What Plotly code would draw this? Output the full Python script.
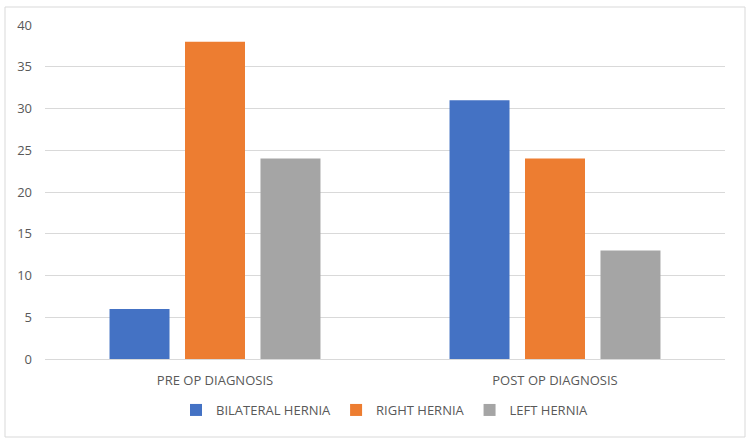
import plotly.graph_objects as go

categories = ["PRE OP DIAGNOSIS", "POST OP DIAGNOSIS"]
series_names = ["BILATERAL HERNIA", "RIGHT HERNIA", "LEFT HERNIA"]
bilateral = [6, 31]
right = [38, 24]
left = [24, 13]
colors = ["#4472C4", "#ED7D31", "#A5A5A5"]
y_ticks = [0, 5, 10, 15, 20, 25, 30, 35, 40]

fig = go.Figure()
for name, vals, c in zip(series_names, [bilateral, right, left], colors):
    fig.add_trace(go.Bar(x=categories, y=vals, name=name, marker=dict(color=c, line=dict(width=0))))

W, H = 750, 445
ml, mr, mt, mb = 45, 25, 25, 86
pw, ph = W - ml - mr, H - mt - mb

def px(x):
    return (x - ml) / pw

def py(y):
    return (H - mb - y) / ph

fig.update_layout(
    width=W, height=H,
    margin=dict(l=ml, r=mr, t=mt, b=mb),
    paper_bgcolor="white", plot_bgcolor="white",
    barmode="group", bargap=0.334, bargroupgap=0.205,
    font=dict(family="Open Sans, Lato, sans-serif", size=13, color="#595959"),
    showlegend=True,
    legend=dict(orientation="h", x=0.5, xanchor="center", y=py(410), yanchor="middle",
                font=dict(size=13, color="#595959"), itemwidth=30, traceorder="normal"),
    xaxis=dict(showgrid=False, showline=False, ticks="", ticklabelstandoff=12,
               tickfont=dict(size=13, color="#595959")),
    yaxis=dict(range=[0, 40], tickvals=y_ticks, showgrid=True, gridcolor="#D9D9D9", gridwidth=1,
               zeroline=True, zerolinecolor="#D9D9D9", zerolinewidth=1, showline=False,
               ticks="", ticklabelstandoff=12, tickfont=dict(size=13, color="#595959")),
    shapes=[dict(type="rect", xref="paper", yref="paper",
                 x0=px(5), x1=px(745), y0=py(437), y1=py(7),
                 line=dict(color="#D9D9D9", width=1), fillcolor="rgba(0,0,0,0)", layer="below")],
)

fig.write_html("out.html")
